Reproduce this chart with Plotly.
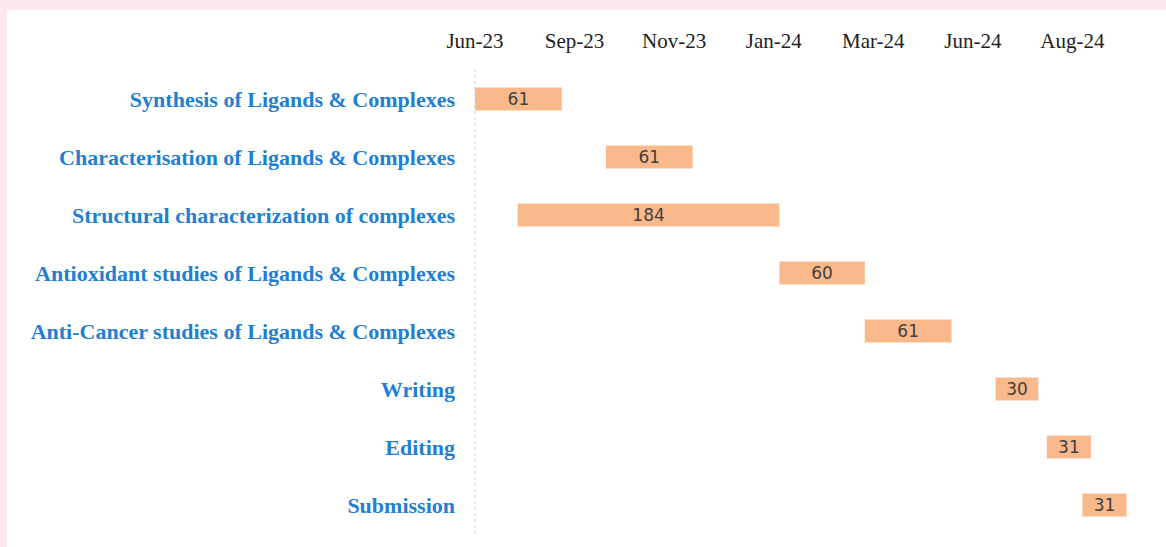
import plotly.graph_objects as go

# Project schedule
tasks = [
    "Synthesis of Ligands & Complexes",
    "Characterisation of Ligands & Complexes",
    "Structural characterization of complexes",
    "Antioxidant studies of Ligands & Complexes",
    "Anti-Cancer studies of Ligands & Complexes",
    "Writing",
    "Editing",
    "Submission",
]
start_dates = [
    "2023-06-24",
    "2023-09-24",
    "2023-07-24",
    "2024-01-24",
    "2024-03-24",
    "2024-06-24",
    "2024-07-30",
    "2024-08-24",
]
durations = [61, 61, 184, 60, 61, 30, 31, 31]  # days

# Time axis: ticks every 70 days from the axis start
axis_start = "2023-06-24"
axis_end = "2024-10-07"
tick_dates = ["2023-06-24", "2023-09-02", "2023-11-11", "2024-01-20",
              "2024-03-30", "2024-06-08", "2024-08-17"]
tick_labels = ["Jun-23", "Sep-23", "Nov-23", "Jan-24", "Mar-24", "Jun-24", "Aug-24"]

DAY_MS = 86400000

fig = go.Figure(
    go.Bar(
        y=tasks,
        base=start_dates,
        x=[d * DAY_MS for d in durations],
        orientation="h",
        width=0.4,
        marker=dict(color="#F9B98A", line=dict(width=0)),
        text=[str(d) for d in durations],
        textposition="inside",
        insidetextanchor="middle",
        constraintext="none",
        textangle=0,
        textfont=dict(family="DejaVu Sans", size=17, color="#404040"),
        hovertemplate="%{y}<br>%{text} days<extra></extra>",
    )
)

W, H = 1166, 547
ml, mr, mt, mb = 475, 21, 70, 13
pw, ph = W - ml - mr, H - mt - mb


def px_x(p):
    return (p - ml) / pw


def px_y(p):
    return (H - mb - p) / ph


# white card on the pink page
fig.add_shape(type="rect", xref="paper", yref="paper",
              x0=px_x(7), x1=px_x(W + 5), y0=px_y(H + 5), y1=px_y(10),
              fillcolor="white", line=dict(width=0), layer="below")
# dotted category axis line
fig.add_shape(type="line", xref="paper", yref="paper",
              x0=0, x1=0, y0=0, y1=1,
              line=dict(color="#D0D0D0", width=1, dash="dot"), layer="below")

fig.update_layout(
    width=W,
    height=H,
    margin=dict(l=ml, r=mr, t=mt, b=mb),
    paper_bgcolor="#FCE7EE",
    plot_bgcolor="rgba(0,0,0,0)",
    showlegend=False,
    bargap=0.6,
    uniformtext=dict(mode=False),
    xaxis=dict(
        type="date",
        side="top",
        range=[axis_start, axis_end],
        tickvals=tick_dates,
        ticktext=tick_labels,
        showgrid=False,
        zeroline=False,
        showline=False,
        ticks="",
        ticklabelstandoff=17,
        tickfont=dict(family="Liberation Serif", size=21, color="#222222"),
    ),
    yaxis=dict(
        type="category",
        categoryorder="array",
        categoryarray=tasks,
        autorange="reversed",
        showgrid=False,
        zeroline=False,
        showline=False,
        ticks="",
        ticklabelstandoff=19,
        tickfont=dict(family="Liberation Serif", size=22, color="#1F7FD2",
                      weight="bold"),
    ),
)

fig.write_html("out.html")
